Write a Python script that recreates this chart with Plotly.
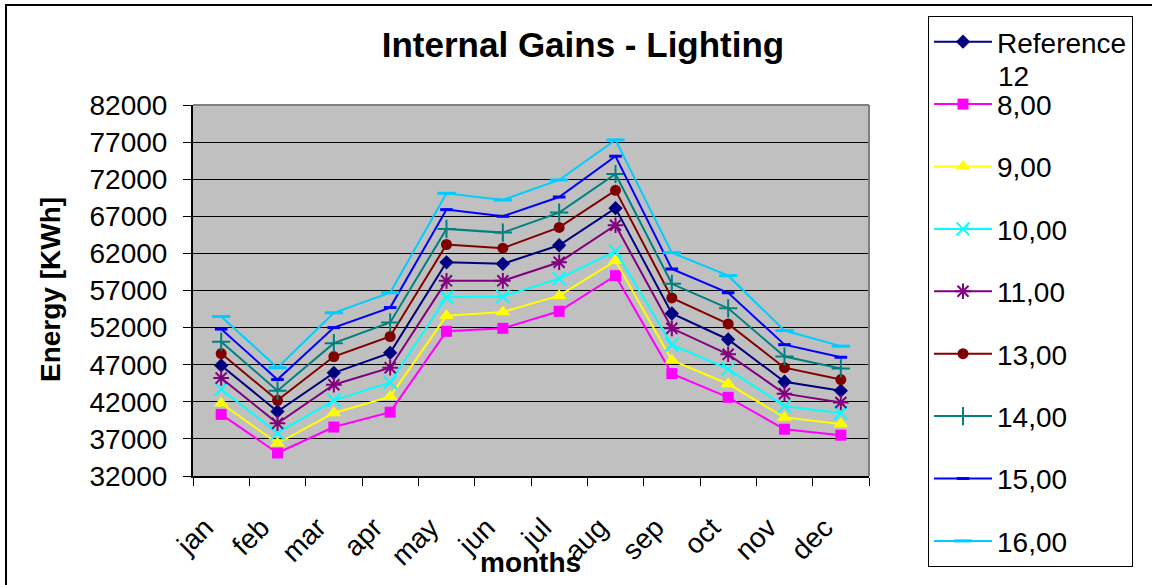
import plotly.graph_objects as go

months = ["jan", "feb", "mar", "apr", "may", "jun", "jul", "aug", "sep", "oct", "nov", "dec"]

ref12 = [46900, 40700, 45900, 48600, 60800, 60600, 63100, 68100, 53900, 50400, 44700, 43500]
h8 = [40300, 35100, 38600, 40600, 51500, 51900, 54200, 59000, 45800, 42600, 38300, 37500]
h9 = [41800, 36400, 40500, 42700, 53600, 54100, 56300, 61000, 47600, 44400, 39900, 39000]
h10 = [43700, 37800, 42200, 44600, 56100, 56200, 58600, 62300, 49700, 46400, 41400, 40500]
h11 = [45200, 39100, 44300, 46600, 58300, 58300, 60800, 65800, 51900, 48400, 43100, 41900]
h13 = [48500, 42200, 48100, 50800, 63200, 62700, 65500, 70500, 56000, 52500, 46600, 45000]
h14 = [50100, 43500, 49900, 52700, 65300, 64800, 67500, 72700, 57900, 54600, 48100, 46500]
h15 = [51800, 45000, 52000, 54700, 67900, 67000, 69600, 75100, 59900, 56700, 49700, 48000]
h16 = [53500, 46600, 54000, 56700, 70100, 69200, 71900, 77300, 62100, 59000, 51600, 49500]

series_names = ["Reference", "8,00", "9,00", "10,00", "11,00", "13,00", "14,00", "15,00", "16,00"]
series_values = [ref12, h8, h9, h10, h11, h13, h14, h15, h16]
colors = ["#000080", "#FF00FF", "#FFFF00", "#00FFFF", "#800080", "#800000", "#008080", "#0000FF", "#00CCFF"]
symbols = ["diamond", "square", "triangle-up", "x-thin-open", "asterisk-open", "circle",
           "cross-thin-open", "line-ew-open", "line-ew-open"]
sizes = [11, 11, 13, 13, 13, 11, 13, 9, 13]

FONT = "Arial, Liberation Sans, sans-serif"

fig = go.Figure()
for name, vals, col, sym, sz in zip(series_names, series_values, colors, symbols, sizes):
    open_sym = sym.endswith("-open")
    fig.add_trace(go.Scatter(
        x=months, y=vals, name=name, mode="lines+markers",
        line=dict(color=col, width=2),
        marker=dict(symbol=sym, size=sz, color=col,
                    line=dict(color=col, width=3 if sym == "line-ew-open" else (2 if open_sym else 0))),
        legendgroup=name,
    ))

W, H = 1152, 585
L, R, T, B = 193, 283, 105, 109
pw, ph = W - L - R, H - T - B

def px(x):
    return (x - L) / pw

def py(y):
    return (H - B - y) / ph

fig.update_layout(
    width=W, height=H,
    margin=dict(l=L, r=R, t=T, b=B, autoexpand=False),
    paper_bgcolor="white",
    plot_bgcolor="#C0C0C0",
    font=dict(family=FONT, size=28, color="black"),
    title=dict(text="Internal Gains - Lighting", x=583 / W, y=(H - 45) / H,
               xanchor="center", yanchor="middle", xref="container", yref="container",
               font=dict(family=FONT, size=35, color="black", weight="bold")),
    showlegend=True,
    legend=dict(x=928 / W, y=1 - 16 / H, xref="container", yref="container",
                xanchor="left", yanchor="top",
                bgcolor="white", bordercolor="black", borderwidth=1,
                font=dict(family=FONT, size=28, color="black"),
                traceorder="grouped", tracegroupgap=23, valign="middle",
                itemwidth=58, maxheight=580),
    xaxis=dict(type="category", range=[-0.5, 11.5], showgrid=False, automargin=False,
               showline=True, linecolor="black", linewidth=2,
               ticks="outside", tickson="boundaries", ticklen=8, tickcolor="black", tickwidth=1,
               tickangle=-45, ticklabelstandoff=22, ticklabelshift=-16,
               tickfont=dict(family=FONT, size=28, color="black")),
    yaxis=dict(range=[32000, 82000], dtick=5000, tick0=32000, showgrid=True, automargin=False,
               gridcolor="black", gridwidth=1, zeroline=False,
               showline=True, linecolor="black", linewidth=2,
               ticks="outside", ticklen=8, tickcolor="black", tickwidth=1,
               ticklabelstandoff=10, tickformat="d",
               tickfont=dict(family=FONT, size=28, color="black")),
    shapes=[
        dict(type="line", xref="paper", yref="paper", x0=0, x1=1, y0=1, y1=1,
             line=dict(color="#808080", width=2)),
        dict(type="line", xref="paper", yref="paper", x0=1, x1=1, y0=0, y1=1,
             line=dict(color="#808080", width=2)),
        dict(type="rect", xref="paper", yref="paper", x0=px(6), x1=px(1165), y0=py(5), y1=py(600),
             line=dict(color="black", width=2), fillcolor="rgba(0,0,0,0)"),
    ],
    annotations=[
        dict(text="Energy [KWh]", x=px(50), y=py(290), xref="paper", yref="paper",
             textangle=-90, showarrow=False, xanchor="center", yanchor="middle",
             font=dict(family=FONT, size=28, color="black", weight="bold")),
        dict(text="months", x=px(530), y=py(562), xref="paper", yref="paper",
             showarrow=False, xanchor="center", yanchor="middle",
             font=dict(family=FONT, size=28, color="black", weight="bold")),
        dict(text="12", x=px(996), y=py(76), xref="paper", yref="paper",
             showarrow=False, xanchor="left", yanchor="middle",
             font=dict(family=FONT, size=28, color="black")),
    ],
)

fig.write_html(
    "out.html",
    config={"displayModeBar": False},
    post_script="document.body.style.margin='0';document.body.style.overflow='hidden';",
)
